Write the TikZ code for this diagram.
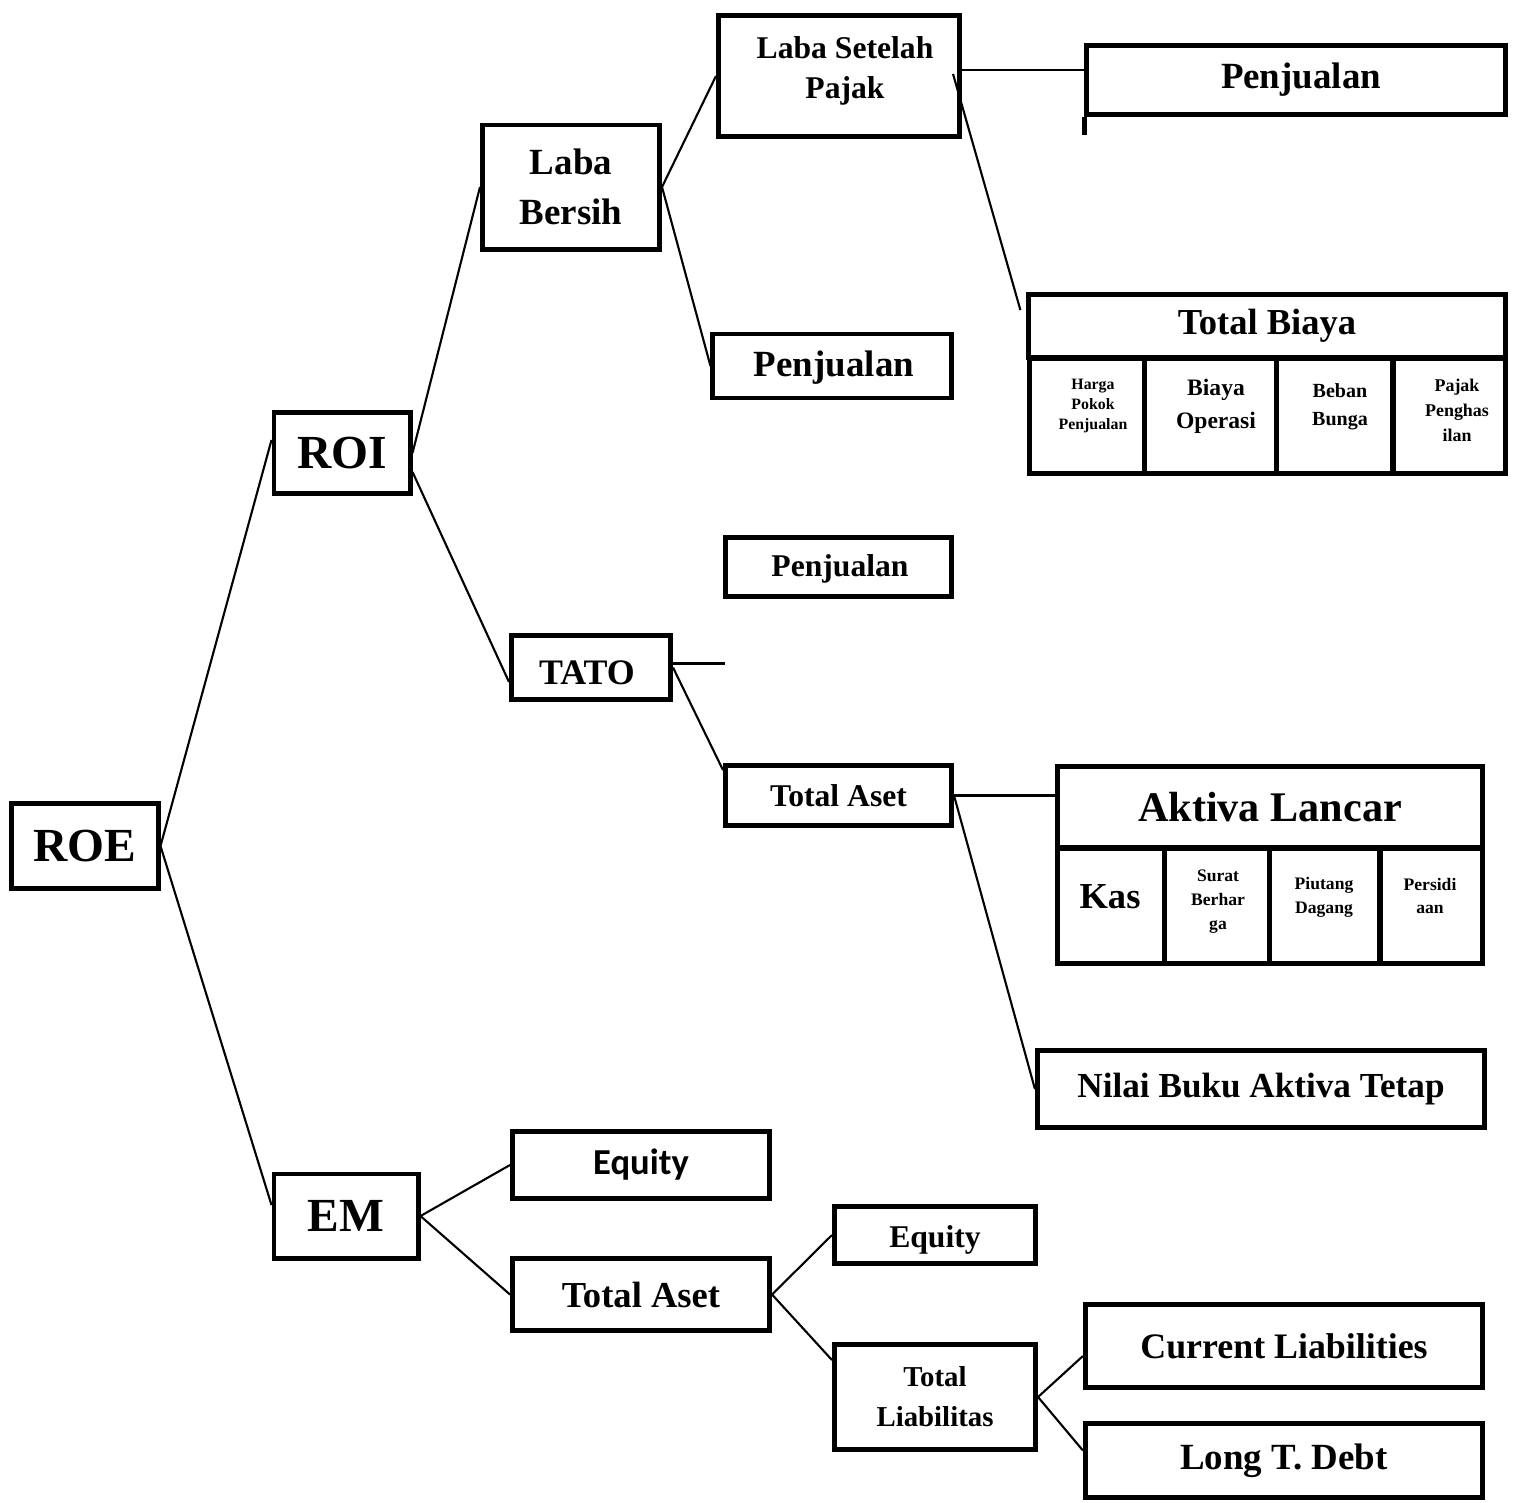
\documentclass[tikz,border=0pt]{standalone}
\usepackage{fontspec}
\setmainfont{Liberation Serif}
\newfontfamily\calibrifont{Carlito}
\usetikzlibrary{calc}
\tikzset{
  bx/.style={draw,line width=1.4pt,inner sep=0pt,align=center},
  txt/.style={inner sep=0pt,align=center},
  every picture/.style={line width=0.6pt},
}
\newcommand{\fsz}[2]{\fontsize{#1}{#2}\selectfont\bfseries}

\begin{document}
\begin{tikzpicture}[x=0.01cm,y=-0.01cm]
\useasboundingbox (0,0) rectangle (1515,1502);
% level 0 and 1
\node[bx,minimum width=1.46cm,minimum height=0.85cm,font=\fsz{13.5}{16}] (roe) at (85,846){ROE};
\node[bx,minimum width=1.36cm,minimum height=0.81cm,font=\fsz{13.5}{16}] (roi) at (342,453){ROI};
\node[bx,minimum width=1.44cm,minimum height=0.84cm,font=\fsz{13.5}{16}] (em) at (346,1216){EM};
% ROI branch
\node[bx,minimum width=1.77cm,minimum height=1.24cm,font=\fsz{10.5}{14.2}] (lb) at (571,187){Laba\\Bersih};
\node[bx,minimum width=2.38cm,minimum height=0.64cm] (pj1) at (832,366){};
\node[txt,font=\fsz{10.5}{13}] (pj1t) at (834,368){Penjualan};
\node[bx,minimum width=2.41cm,minimum height=1.21cm] (lsp) at (839,76){};
\node[txt,font=\fsz{9}{11.4}] (lspt) at (845,71){Laba Setelah\\Pajak};
\node[bx,minimum width=4.18cm,minimum height=0.69cm] (pj3) at (1296,80){};
\node[txt,font=\fsz{10.5}{13}] (pj3t) at (1301,80){Penjualan};
\draw[line width=1.4pt] (pj3.south west) -- ++(0,18);
% total biaya
\node[bx,minimum width=4.76cm,minimum height=0.63cm,font=\fsz{10.4}{13}] (tb) at (1267,326){Total Biaya};
\node[bx,minimum width=1.155cm,minimum height=1.155cm] (tb1) at (1087,416){};
\node[bx,minimum width=1.31cm,minimum height=1.155cm] (tb2) at (1210.5,416){};
\node[bx,minimum width=1.17cm,minimum height=1.155cm] (tb3) at (1334.5,416){};
\node[bx,minimum width=1.125cm,minimum height=1.155cm] (tb4) at (1449,416){};
\node[txt,font=\fsz{4.5}{5.7}] (tb1t) at (1093,406){Harga\\Pokok\\Penjualan};
\node[txt,font=\fsz{6.7}{9.4}] (tb2t) at (1216,406){Biaya\\Operasi};
\node[txt,font=\fsz{5.7}{8}] (tb3t) at (1340,407){Beban\\Bunga};
\node[txt,font=\fsz{5.1}{7.1}] (tb4t) at (1457,410){Pajak\\Penghas\\ilan};
% TATO branch
\node[bx,minimum width=2.26cm,minimum height=0.59cm] (pj2) at (838.5,567){};
\node[txt,font=\fsz{9}{11}] (pj2t) at (840,569){Penjualan};
\node[bx,minimum width=1.59cm,minimum height=0.64cm] (tato) at (591,667.5){};
\node[txt,font=\fsz{10.2}{12}] (tatot) at (587,673){TATO};
\coordinate (tatoend) at (725,664);
\node[bx,minimum width=2.26cm,minimum height=0.60cm,font=\fsz{9}{11}] (ta1) at (838.5,795.5){Total Aset};
\node[bx,minimum width=4.25cm,minimum height=0.815cm,font=\fsz{12}{14}] (al) at (1270,807){Aktiva Lancar};
\node[bx,minimum width=1.075cm,minimum height=1.155cm] (al1) at (1111,906){};
\node[bx,minimum width=1.04cm,minimum height=1.155cm] (al2) at (1217,906){};
\node[bx,minimum width=1.11cm,minimum height=1.155cm] (al3) at (1324.5,906){};
\node[bx,minimum width=1.025cm,minimum height=1.155cm] (al4) at (1431,906){};
\node[txt,font=\fsz{10.4}{12}] (al1t) at (1110,897){Kas};
\node[txt,font=\fsz{5}{6.8}] (al2t) at (1218,902){Surat\\Berhar\\ga};
\node[txt,font=\fsz{5}{6.8}] (al3t) at (1324,897){Piutang\\Dagang};
\node[txt,font=\fsz{5}{6.8}] (al4t) at (1430,896){Persidi\\aan};
\node[bx,minimum width=4.47cm,minimum height=0.77cm,font=\fsz{10}{12}] (nb) at (1261,1089){Nilai Buku Aktiva Tetap};
% EM branch
\node[bx,minimum width=2.57cm,minimum height=0.67cm,font=\calibrifont\fsz{10.4}{12}] (eq1) at (641,1165){Equity};
\node[bx,minimum width=2.57cm,minimum height=0.72cm,font=\fsz{10.4}{12}] (ta2) at (641,1294.5){Total Aset};
\node[bx,minimum width=2.01cm,minimum height=0.57cm] (eq2) at (935,1235){};
\node[txt,font=\fsz{9}{11}] (eq2t) at (935,1240){Equity};
\node[bx,minimum width=2.01cm,minimum height=1.05cm,font=\fsz{8.2}{11.4}] (tl) at (935,1397){Total\\Liabilitas};
\node[bx,minimum width=3.97cm,minimum height=0.83cm,font=\fsz{10.2}{12}] (cl) at (1284,1346){Current Liabilities};
\node[bx,minimum width=3.97cm,minimum height=0.74cm,font=\fsz{10.5}{12}] (ltd) at (1284,1460.5){Long T. Debt};
% connectors
\draw (roe.east) -- ([yshift=0.13cm]roi.west);
\draw (roe.east) -- ([yshift=0.11cm]em.west);
\draw (roi.east) -- (lb.west);
\draw (roi.-15) -- (tato.190);
\draw (lb.east) -- (lsp.west);
\draw (lb.east) -- (pj1.west);
\draw ([yshift=0.06cm]lsp.east) -- ([yshift=0.06cm]lsp.east -| pj3.west);
\draw ([xshift=-0.09cm,yshift=0.02cm]lsp.east) -- ([xshift=-0.06cm,yshift=-0.18cm]tb.north west);
\draw ([yshift=0.04cm]tato.east) -- ([yshift=0.04cm]tato.east -| tatoend);
\draw (tato.east) -- ([yshift=-0.07cm]ta1.north west);
\draw (ta1.east) -- (ta1.east -| al.west);
\draw (ta1.east) -- (nb.west);
\draw (em.east) -- (eq1.west);
\draw (em.east) -- (ta2.west);
\draw (ta2.east) -- (eq2.west);
\draw (ta2.east) -- ([yshift=-0.18cm]tl.north west);
\draw (tl.east) -- ([yshift=-0.1cm]cl.west);
\draw (tl.east) -- ([yshift=0.1cm]ltd.west);
\end{tikzpicture}
\end{document}
